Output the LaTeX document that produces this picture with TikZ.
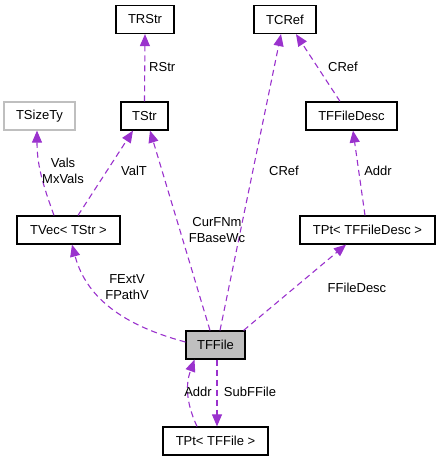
\documentclass[tikz,border=0pt]{standalone}
\usepackage{fontspec}
\setmainfont{Liberation Sans}
\usepackage{xcolor}
\usepackage{tikz}
\usetikzlibrary{arrows.meta, positioning, calc}
\definecolor{usecol}{HTML}{9A32CD}
\definecolor{boxgray}{HTML}{BFBFBF}

\tikzset{
    cls/.style={draw=black, line width=1.2pt, fill=white, inner sep=0pt,
        minimum height=28pt, font=\fontsize{13}{15}\selectfont},
    clsdoc/.style={cls, draw=boxgray},
    clsmain/.style={cls, fill=boxgray},
    use/.style={draw=usecol, line width=1.1pt, dash pattern=on 6pt off 4pt,
        -{Triangle[length=12pt, width=10pt, fill=usecol]}},
    lbl/.style={inner sep=0pt, align=center, font=\fontsize{13}{16}\selectfont}
}

\begin{document}
\begin{tikzpicture}[x=1pt, y=-1pt]
    \useasboundingbox (0,0) rectangle (440,461);

    % 类
    \node[cls, minimum width=58pt] (trstr) at (145,19.5) {TRStr};
    \node[cls, minimum width=62pt] (tcref) at (285,19.5) {TCRef};
    \node[clsdoc, minimum width=71pt] (tsizety) at (39.5,116) {TSizeTy};
    \node[cls, minimum width=47pt] (tstr) at (144.5,116) {TStr};
    \node[cls, minimum width=91pt] (tffiledesc) at (351.5,116) {TFFileDesc};
    \node[cls, minimum width=103pt] (tvec) at (68.5,230) {TVec< TStr >};
    \node[cls, minimum width=135pt] (tptdesc) at (367.5,230) {TPt< TFFileDesc >};
    \node[clsmain, minimum width=59pt] (tffile) at (215.5,345) {TFFile};
    \node[cls, minimum width=105pt] (tptfile) at (215.5,441) {TPt< TFFile >};

    % 成员关系
    \draw[use] (tstr.north) -- (trstr.south);
    \draw[use] ([xshift=-11.5pt]tffiledesc.north) -- ([xshift=11pt]tcref.south);
    \draw[use] ([xshift=-14.5pt]tvec.north) to[out=110, in=-90] ([xshift=-2.5pt]tsizety.south);
    \draw[use] ([xshift=9.5pt]tvec.north) -- ([xshift=-11.5pt]tstr.south);
    \draw[use] ([xshift=-5.5pt]tffile.north) -- ([xshift=5.5pt]tstr.south);
    \draw[use] ([xshift=4.5pt]tffile.north) -- ([xshift=-4pt]tcref.south);
    \draw[use] ([yshift=3pt]tffile.west) to[out=165, in=-75] ([xshift=3.5pt]tvec.south);
    \draw[use] ([xshift=-2pt]tffile.north east) -- ([xshift=-21.5pt]tptdesc.south);
    \draw[use] ([xshift=-2.5pt]tptdesc.north) -- ([xshift=1.5pt]tffiledesc.south);
    \draw[use] ([xshift=1.5pt]tffile.south) -- ([xshift=1.5pt]tptfile.north);
    \draw[use] ([xshift=-18.5pt]tptfile.north) to[out=115, in=-110] ([xshift=-21pt]tffile.south);

    % 标签
    \node[lbl, anchor=west] (l-rstr) at (149,67) {RStr};
    \node[lbl] (l-cref1) at (343,67) {CRef};
    \node[lbl] (l-vals) at (63,171) {Vals\\MxVals};
    \node[lbl] (l-valt) at (134,171) {ValT};
    \node[lbl] (l-curfnm) at (217,230) {CurFNm\\FBaseWc};
    \node[lbl] (l-cref2) at (284,171) {CRef};
    \node[lbl] (l-addr1) at (378,171) {Addr};
    \node[lbl] (l-fextv) at (127,287) {FExtV\\FPathV};
    \node[lbl] (l-ffiledesc) at (357,288) {FFileDesc};
    \node[lbl] (l-addr2) at (198,392) {Addr};
    \node[lbl] (l-subffile) at (250,392) {SubFFile};
\end{tikzpicture}
\end{document}
